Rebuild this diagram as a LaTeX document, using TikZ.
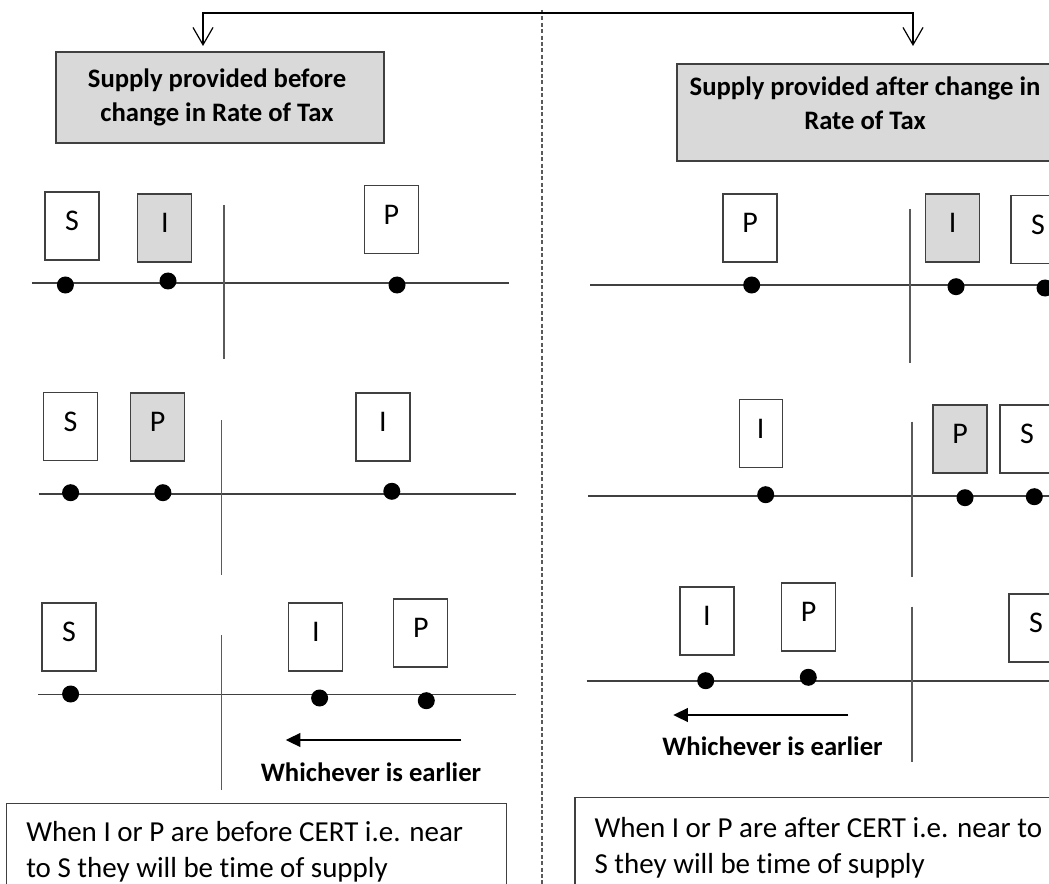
\documentclass[tikz,border=0pt]{standalone}
\usepackage{fontspec}
\setmainfont{Carlito}[Ligatures=CommonOff]
\usetikzlibrary{arrows.meta}
\definecolor{boxgray}{HTML}{D9D9D9}
\definecolor{edge}{HTML}{404040}
\definecolor{certline}{HTML}{5A5A5A}

\begin{document}
\begin{tikzpicture}[x=0.75pt,y=-0.75pt,
  letterbox/.style={draw=edge, line width=0.9pt, minimum width={54*0.75pt},
    minimum height={68*0.75pt}, inner sep=0pt,
    font=\fontsize{22.5}{27}\selectfont, text height=15.5pt, text depth=8.5pt},
  shaded/.style={letterbox, fill=boxgray},
  narrow/.style={letterbox, minimum width={43*0.75pt}},
  dot/.style={circle, fill=black, inner sep=0pt, minimum size={17*0.75pt}},
  timeline/.style={draw=edge, line width=1.15pt},
  cert/.style={draw=certline, line width=1.2pt},
  hdrbox/.style={draw=edge, fill=boxgray, line width=1.1pt, inner sep=0pt},
  hdrtext/.style={align=center, inner sep=0pt,
    font=\fontsize{20}{25.5}\selectfont\bfseries},
  earlier/.style={inner sep=0pt, font=\fontsize{20}{24}\selectfont\bfseries},
  notebox/.style={draw=edge, line width=1pt, inner sep=0pt},
  notetext/.style={align=left, inner sep=0pt,
    font=\fontsize{21.75}{27}\selectfont},
  earliest/.style={draw=black, line width=1pt, -{Triangle[length=11pt,width=10.5pt]}},
  feed/.style={draw=black, line width=0.9pt,
    {Straight Barb[length=13pt,width=15pt]}-{Straight Barb[length=13pt,width=15pt]}}
]
\path[use as bounding box, clip] (0,0) rectangle (1049,884);

% ---- divider between the two cases
\coordinate (divtop) at (542,10);
\coordinate (divbot) at (542,890);
\draw[certline, line width=1.1pt, dash pattern=on 3pt off 1.8pt] (divtop) -- (divbot);

% ---- headers
\node[hdrbox, minimum width={328*0.75pt}, minimum height={91*0.75pt}] (hdrL) at (220,97.5) {};
\node[hdrtext] (hdrLtxt) at (217,97) {Supply provided before\\change in Rate of Tax};
\node[hdrbox, minimum width={385*0.75pt}, minimum height={97*0.75pt}] (hdrR) at (869.5,112.5) {};
\node[hdrtext] (hdrRtxt) at (865,103) {Supply provided after change in\\Rate of Tax};

% ---- feed line into both headers
\coordinate (tipL) at (203,46);
\coordinate (tipR) at (913,46);
\coordinate (bus) at (558,13);
\draw[feed] (tipL) |- (bus) -| (tipR);

% ================= left: supply before change =================
% row 1
\coordinate (l1a) at (31.7,283); \coordinate (l1b) at (509,283);
\draw[timeline] (l1a) -- (l1b);
\coordinate (c1t) at (223.8,205); \coordinate (c1b) at (223.8,359);
\draw[cert] (c1t) -- (c1b);
\node[letterbox] (lS1) at (72,226) {S};
\node[shaded] (lI1) at (164.8,228) {I};
\node[letterbox] (lP1) at (391.4,219.5) {P};
\node[dot] (dS1) at (65.4,285) {};
\node[dot] (dI1) at (168,281) {};
\node[dot] (dP1) at (397,285) {};

% row 2
\coordinate (l2a) at (38.6,494); \coordinate (l2b) at (515.5,494);
\draw[timeline] (l2a) -- (l2b);
\coordinate (c2t) at (221.4,420); \coordinate (c2b) at (221.4,575);
\draw[cert] (c2t) -- (c2b);
\node[letterbox] (lS2) at (70.4,426.7) {S};
\node[shaded] (lP2) at (157.6,427) {P};
\node[letterbox] (lI2) at (383,427) {I};
\node[dot] (dS2) at (70.6,492.7) {};
\node[dot] (dP2) at (162.9,492.7) {};
\node[dot] (dI2) at (391.8,491.3) {};

% row 3
\coordinate (l3a) at (38,694.5); \coordinate (l3b) at (516,694.5);
\draw[timeline] (l3a) -- (l3b);
\coordinate (c3t) at (221.4,635); \coordinate (c3b) at (221.4,790);
\draw[cert] (c3t) -- (c3b);
\node[letterbox] (lS3) at (68.9,637) {S};
\node[letterbox] (lI3) at (315.8,637) {I};
\node[letterbox] (lP3) at (420.8,633) {P};
\node[dot] (dS3) at (70.6,694) {};
\node[dot] (dI3) at (319.6,698) {};
\node[dot] (dP3) at (426.3,700.7) {};
\coordinate (eLa) at (461.4,740); \coordinate (eLb) at (285.8,740);
\draw[earliest] (eLa) -- (eLb);
\node[earlier, anchor=base] (wL) at (371,781.7) {Whichever is earlier};

% note
\node[notebox, anchor=north west, minimum width={500.5*0.75pt}, minimum height={120*0.75pt}] (noteL) at (5.5,803) {};
\node[notetext, anchor=base west] (noteLtxt) at (26,877) {When I or P are before CERT i.e. near\\to S they will be time of supply};

% ================= right: supply after change =================
% row 1
\coordinate (r1a) at (590,285); \coordinate (r1b) at (1060,285);
\draw[timeline] (r1a) -- (r1b);
\coordinate (k1t) at (910,209); \coordinate (k1b) at (910,362.7);
\draw[cert] (k1t) -- (k1b);
\node[letterbox] (rP1) at (750,228) {P};
\node[shaded] (rI1) at (952.7,228) {I};
\node[letterbox] (rS1) at (1038,229.7) {S};
\node[dot] (eP1) at (751.7,285) {};
\node[dot] (eI1) at (956,286.7) {};
\node[dot] (eS1) at (1045,288) {};

% row 2
\coordinate (r2a) at (588,496); \coordinate (r2b) at (1060,496);
\draw[timeline] (r2a) -- (r2b);
\coordinate (k2t) at (911.7,421.7); \coordinate (k2b) at (911.7,577);
\draw[cert] (k2t) -- (k2b);
\node[narrow] (rI2) at (760.7,433.7) {I};
\node[shaded] (rP2) at (960,439) {P};
\node[letterbox] (rS2) at (1027,439) {S};
\node[dot] (eI2) at (765.7,494.7) {};
\node[dot] (eP2) at (965,497.7) {};
\node[dot] (eS2) at (1034.3,496.7) {};

% row 3
\coordinate (r3a) at (586.7,681); \coordinate (r3b) at (1060,681);
\draw[timeline] (r3a) -- (r3b);
\coordinate (k3t) at (911.7,606.7); \coordinate (k3b) at (911.7,761.7);
\draw[cert] (k3t) -- (k3b);
\node[letterbox] (rI3) at (707,621) {I};
\node[letterbox] (rP3) at (808.5,617) {P};
\node[letterbox] (rS3) at (1036,628) {S};
\node[dot] (eI3) at (705.7,680.7) {};
\node[dot] (eP3) at (808.3,677.3) {};
\coordinate (eRa) at (848.3,715); \coordinate (eRb) at (673.3,715);
\draw[earliest] (eRa) -- (eRb);
\node[earlier, anchor=base] (wR) at (772.5,755) {Whichever is earlier};

% note
\node[notebox, anchor=north west, minimum width={500*0.75pt}, minimum height={120*0.75pt}] (noteR) at (574.3,796.7) {};
\node[notetext, anchor=base west] (noteRtxt) at (594.3,873) {When I or P are after CERT i.e. near to\\S they will be time of supply};
\end{tikzpicture}
\end{document}
